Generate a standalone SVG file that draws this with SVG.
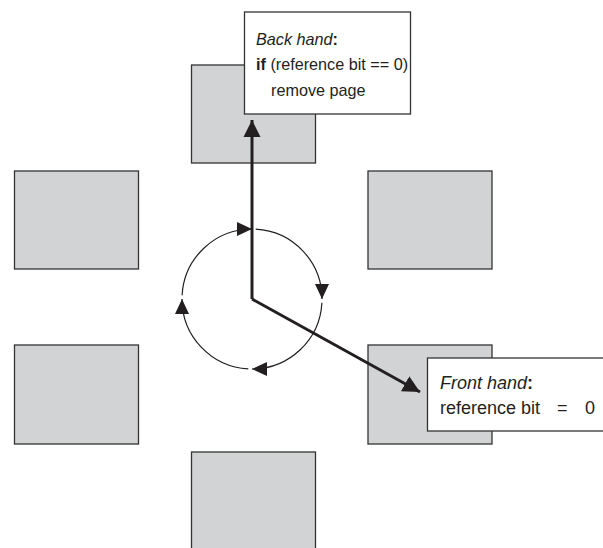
<svg xmlns="http://www.w3.org/2000/svg" width="603" height="548" viewBox="0 0 603 548">
<style>
.page{fill:#d1d3d4;stroke:#333;stroke-width:1.3}
.label{fill:#fff;stroke:#333;stroke-width:1.3}
.hand{fill:none;stroke:#231f20;stroke-width:3}
.arc{fill:none;stroke:#231f20;stroke-width:1.2}
text{font-family:"Liberation Sans",Arial,sans-serif;font-size:16.2px;fill:#231f20}
.ft{font-size:18px}
</style>
<defs>
<marker id="big" markerUnits="userSpaceOnUse" markerWidth="18" markerHeight="18" viewBox="0 0 18 18" refX="17" refY="9" orient="auto">
<path d="M0,0.5 L17,9 L0,17.5 Z" fill="#231f20"/>
</marker>
<marker id="small" markerUnits="userSpaceOnUse" markerWidth="16" markerHeight="15" viewBox="0 0 16 15" refX="15" refY="7.5" orient="auto">
<path d="M0,0.5 L15,7.5 L0,14.5 Z" fill="#231f20"/>
</marker>
</defs>
<rect width="603" height="548" fill="#fff"/>
<g id="page-top"><rect class="page" x="191.5" y="65" width="124" height="98"/></g>
<g id="page-top-left"><rect class="page" x="14.5" y="171" width="124" height="98"/></g>
<g id="page-top-right"><rect class="page" x="368" y="171" width="124" height="98"/></g>
<g id="page-mid-left"><rect class="page" x="14.5" y="345" width="124" height="99"/></g>
<g id="page-mid-right"><rect class="page" x="368" y="345" width="124" height="99"/></g>
<g id="page-bottom"><rect class="page" x="191.5" y="452" width="124" height="110"/></g>
<g id="connectors">
<path class="arc" d="M182.1,295.3 A70,70 0 0 1 252,229" marker-end="url(#small)"/>
<path class="arc" d="M255.7,229.1 A70,70 0 0 1 322,299" marker-end="url(#small)"/>
<path class="arc" d="M321.9,302.7 A70,70 0 0 1 252,369" marker-end="url(#small)"/>
<path class="arc" d="M248.3,368.9 A70,70 0 0 1 182,299" marker-end="url(#small)"/>
<path class="hand" d="M252,299 L252,120" marker-end="url(#big)"/>
<path class="hand" d="M252,299 L420,392" marker-end="url(#big)"/>
</g>
<g id="back-hand">
<rect class="label" x="244.5" y="12" width="166" height="102"/>
<text x="256" y="44.5"><tspan font-style="italic">Back hand</tspan><tspan font-weight="bold">:</tspan></text>
<text x="256" y="70"><tspan font-weight="bold">if</tspan> (reference bit == 0)</text>
<text x="271" y="95.5">remove page</text>
</g>
<g id="front-hand">
<rect class="label" x="427.5" y="358" width="180" height="73"/>
<text class="ft" x="440" y="389"><tspan font-style="italic">Front hand</tspan><tspan font-weight="bold">:</tspan></text>
<text class="ft" x="440" y="414">reference bit <tspan x="557">=</tspan><tspan x="585">0</tspan></text>
</g>
</svg>
